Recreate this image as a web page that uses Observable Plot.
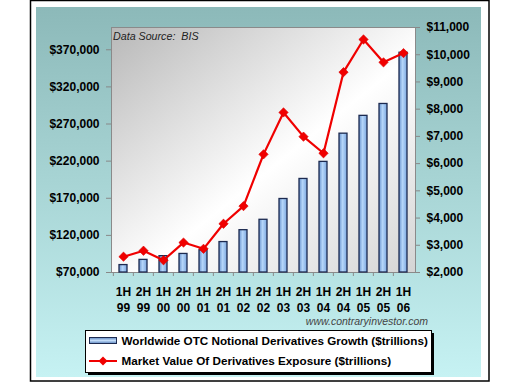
<!DOCTYPE html>
<html><head><meta charset="utf-8">
<script src="https://cdn.jsdelivr.net/npm/d3@7"></script>
<script src="https://cdn.jsdelivr.net/npm/@observablehq/plot@0.6"></script>
<style>
body{margin:0;background:#fff;}
#chart{position:relative;width:519px;height:382px;}
</style>
</head><body><div id="chart"></div>
<script>
// ---- data ----
const halves = ["1H","2H","1H","2H","1H","2H","1H","2H","1H","2H","1H","2H","1H","2H","1H"];
const years  = ["99","99","00","00","01","01","02","02","03","03","04","04","05","05","06"];
// Worldwide OTC notional derivatives ($ trillions, left axis)
const notional = [80000, 87000, 92000, 95000, 100000, 111000, 127000, 141000, 169000, 196000, 219000, 257000, 281000, 297000, 366000];
// Market value of derivatives exposure ($ trillions, right axis)
const marketValue = [2580, 2800, 2450, 3100, 2870, 3790, 4440, 6340, 7880, 6990, 6380, 9360, 10560, 9720, 10060];
const leftTicks = [70000, 120000, 170000, 220000, 270000, 320000, 370000];
const rightTicks = [2000, 3000, 4000, 5000, 6000, 7000, 8000, 9000, 10000, 11000];
const legendLabels = ["Worldwide OTC Notional Derivatives Growth ($trillions)", "Market Value Of Derivatives Exposure ($trillions)"];
const sourceNote = "Data Source:  BIS";
const watermark = "www.contraryinvestor.com";

// ---- build ----
const cats = halves.map((h, i) => h + "\n" + years[i]);
const data = cats.map((c, i) => ({cat: c, notional: notional[i], market: marketValue[i]}));
const L0 = 70000, L1 = 400000, R0 = 2000, R1 = 11000;
const toLeft = v => L0 + (v - R0) * (L1 - L0) / (R1 - R0);
const fromLeft = v => R0 + (v - L0) * (R1 - R0) / (L1 - L0);
const money = d3.format("$,.0f");
const W = 519, H = 382, mL = 111, mR = 104, mT = 27, mB = 110;
const step = (W - mL - mR) / 15;
const font = "Arial, 'Liberation Sans', sans-serif";
const red = "#f00000";

const chart = Plot.plot({
  width: W, height: H, marginLeft: mL, marginRight: mR, marginTop: mT, marginBottom: mB,
  style: {background: "transparent", fontFamily: font, color: "#000", overflow: "visible"},
  x: {type: "band", domain: cats, paddingInner: 0.6, paddingOuter: 0.3, axis: null, label: null},
  y: {domain: [L0, L1], axis: null, label: null},
  marks: [
    Plot.frame({fill: "url(#plotBg)", stroke: "#8a8a8a"}),
    Plot.barY(data, {x: "cat", y1: L0, y2: "notional", fill: "url(#barGrad)", stroke: "#1c2a50", strokeWidth: 1.3}),
    Plot.axisX({tickSize: 4, tickFormat: () => "", dx: -step / 2, stroke: "#8a8a8a", label: null}),
    Plot.lineY(data, {x: "cat", y: d => toLeft(d.market), stroke: red, strokeWidth: 2.2}),
    Plot.dot(data, {x: "cat", y: d => toLeft(d.market), symbol: "diamond2", r: 4.2, fill: red, stroke: "#d80000", strokeWidth: 0.6}),
    Plot.axisY(leftTicks, {anchor: "left", tickSize: 5, tickPadding: 7, tickFormat: money, fontSize: 12, fontWeight: "bold", stroke: "#888", fill: "#000", label: null}),
    Plot.axisY(rightTicks.map(toLeft), {anchor: "right", tickSize: 4, tickPadding: 7, tickFormat: d => money(Math.round(fromLeft(d))), fontSize: 12, fontWeight: "bold", stroke: "#888", fill: "#000", label: null}),
    Plot.axisX({tickSize: 0, tickPadding: 13, fontSize: 12, fontWeight: "bold", lineHeight: 1.28, fill: "#000", label: null})
  ]
});
document.getElementById("chart").appendChild(chart);

const svg = d3.select(chart);
// backgrounds under everything
svg.insert("rect", ":first-child").attr("x", 36).attr("y", 7).attr("width", 445).attr("height", 370).attr("fill", "url(#teal)");
svg.insert("rect", ":first-child").attr("x", 30.5).attr("y", 0.5).attr("width", 458.5).attr("height", 380.5).attr("fill", "#fff").attr("stroke", "#000").attr("stroke-width", 1.5);
const defs = svg.insert("defs", ":first-child");
function grad(id, x2, y2, stops) {
  const g = defs.append("linearGradient").attr("id", id).attr("x1", 0).attr("y1", 0).attr("x2", x2).attr("y2", y2);
  stops.forEach(([o, c]) => g.append("stop").attr("offset", o).attr("stop-color", c));
}
grad("teal", 0, 1, [[0, "#8cb9b9"], [0.45, "#a6d3d3"], [1, "#c6f2f3"]]);
grad("plotBg", 1, 1, [[0, "#b8b8b8"], [0.55, "#ffffff"], [1, "#d4d4d4"]]);
grad("barGrad", 1, 0, [[0, "#6a94cf"], [0.45, "#b6d7fa"], [1, "#7ba6df"]]);
grad("legBar", 0, 1, [[0, "#5d86c0"], [0.5, "#c2dcf8"], [1, "#5d86c0"]]);

// annotations
svg.append("text").attr("x", 113).attr("y", 40).attr("text-anchor", "start").attr("font-family", font).attr("font-style", "italic").attr("font-size", 10.7).attr("fill", "#222").attr("xml:space", "preserve").style("white-space", "pre").text(sourceNote);
svg.append("text").attr("x", 428).attr("y", 325).attr("text-anchor", "end").attr("font-family", font).attr("font-style", "italic").attr("font-size", 10.5).attr("fill", "#444").text(watermark);

// legend
const lg = svg.append("g").attr("text-anchor", "start");
lg.append("rect").attr("x", 88).attr("y", 333).attr("width", 346).attr("height", 42).attr("fill", "#000");
lg.append("rect").attr("x", 85.5).attr("y", 330.5).attr("width", 346).attr("height", 42).attr("fill", "#fff").attr("stroke", "#000");
lg.append("rect").attr("x", 89.5).attr("y", 337.5).attr("width", 27).attr("height", 6).attr("fill", "url(#legBar)").attr("stroke", "#1c2a50");
lg.append("line").attr("x1", 89).attr("x2", 117).attr("y1", 361).attr("y2", 361).attr("stroke", red).attr("stroke-width", 2);
lg.append("path").attr("d", "M103,356.5L107.5,361L103,365.5L98.5,361Z").attr("fill", red);
legendLabels.forEach((t, i) => {
  lg.append("text").attr("x", 121.5).attr("y", 345 + i * 20).attr("text-anchor", "start").attr("font-family", font).attr("font-weight", "bold").attr("font-size", 11.7).attr("fill", "#000").text(t);
});
</script>
</body></html>
